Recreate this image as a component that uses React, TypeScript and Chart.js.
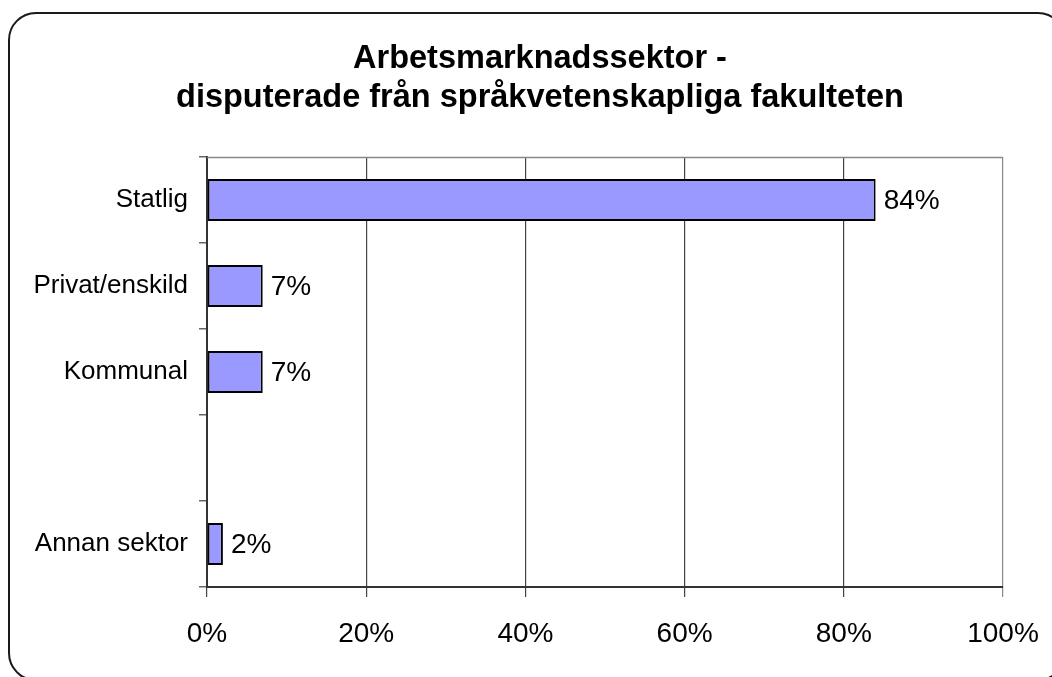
import React, { useEffect, useRef } from "react";
import { Chart, registerables } from "chart.js";

Chart.register(...registerables);

const categories = ["Statlig", "Privat/enskild", "Kommunal", "", "Annan sektor"];
const values: (number | null)[] = [84, 7, 7, null, 2];
const xTickValues = [0, 20, 40, 60, 80, 100];
const titleLines = ["Arbetsmarknadssektor -", "disputerade från språkvetenskapliga fakulteten"];

const FONT = "'Liberation Sans', Arial, sans-serif";

export default function App() {
  const ref = useRef<HTMLCanvasElement>(null);

  useEffect(() => {
    if (!ref.current) return;

    const labelPlugin = {
      id: "barLabels",
      afterDatasetsDraw(chart: any) {
        const ctx = chart.ctx;
        const meta = chart.getDatasetMeta(0);
        ctx.save();
        ctx.font = `28px ${FONT}`;
        ctx.fillStyle = "#000";
        ctx.textBaseline = "middle";
        ctx.textAlign = "left";
        meta.data.forEach((bar: any, i: number) => {
          const v = values[i];
          if (v == null) return;
          ctx.fillText(`${v}%`, bar.x + 8, bar.y + 1);
        });
        ctx.restore();
      },
    };

    const framePlugin = {
      id: "plotFrame",
      afterLayout(chart: any) {
        const tb = chart.titleBlock;
        if (tb) {
          tb.left = 0;
          tb.right = chart.width;
          tb.width = chart.width;
        }
      },
      beforeDatasetsDraw(chart: any) {
        const { ctx, chartArea: a } = chart;
        ctx.save();
        ctx.strokeStyle = "#888";
        ctx.lineWidth = 1.5;
        ctx.beginPath();
        ctx.moveTo(a.left, a.top + 0.5);
        ctx.lineTo(a.right, a.top + 0.5);
        ctx.stroke();
        ctx.restore();
      },
    };

    const chart = new Chart(ref.current, {
      type: "bar",
      data: {
        labels: categories,
        datasets: [
          {
            data: values as any,
            backgroundColor: "#9999FF",
            borderColor: "#000",
            borderWidth: 2,
            borderSkipped: false,
            barPercentage: 0.49,
            categoryPercentage: 1,
          },
        ],
      },
      options: {
        indexAxis: "y",
        responsive: false,
        animation: false,
        layout: { padding: { left: 0, right: 77, top: 0, bottom: 0 } },
        plugins: {
          legend: { display: false },
          tooltip: { enabled: false },
          title: {
            display: true,
            text: titleLines,
            color: "#000",
            font: { family: FONT, size: 32.5, weight: "bold", lineHeight: 1.215 },
            padding: { top: 39, bottom: 39 },
          },
        },
        scales: {
          x: {
            type: "linear",
            min: 0,
            max: 100,
            afterFit(scale: any) {
              scale.height = 90;
            },
            afterBuildTicks(scale: any) {
              scale.ticks = xTickValues.map((v) => ({ value: v }));
            },
            ticks: {
              color: "#000",
              font: { family: FONT, size: 28 },
              padding: 20,
              callback: (v: any) => `${v}%`,
            },
            grid: {
              color: (ctx: any) => (ctx.tick && ctx.tick.value === 100 ? "#888" : "#444"),
              lineWidth: 1.2,
              drawTicks: true,
              tickLength: 10,
            },
            border: { color: "#333", width: 2 },
          },
          y: {
            type: "category",
            afterFit(scale: any) {
              scale.width = 207;
            },
            ticks: {
              color: "#000",
              font: { family: FONT, size: 26 },
              padding: 11,
            },
            grid: {
              drawOnChartArea: false,
              drawTicks: true,
              tickLength: 8,
              color: "#666",
              lineWidth: 1.5,
            },
            border: { color: "#333", width: 2 },
          },
        },
      },
      plugins: [labelPlugin, framePlugin],
    });

    return () => chart.destroy();
  }, []);

  return (
    <div
      style={{
        position: "fixed",
        left: 0,
        top: 0,
        width: 1052,
        height: 677,
        overflow: "hidden",
        background: "#fff",
      }}
    >
      <canvas
        ref={ref}
        width={1080}
        height={677}
        style={{ position: "absolute", left: 0, top: 0, width: 1080, height: 677 }}
      />
      <div
        style={{
          position: "absolute",
          left: 8,
          top: 12,
          width: 1058,
          height: 669,
          boxSizing: "border-box",
          border: "2px solid #1a1a1a",
          borderRadius: 28,
          boxShadow: "2px 2px 0 #000",
          pointerEvents: "none",
        }}
      />
    </div>
  );
}
